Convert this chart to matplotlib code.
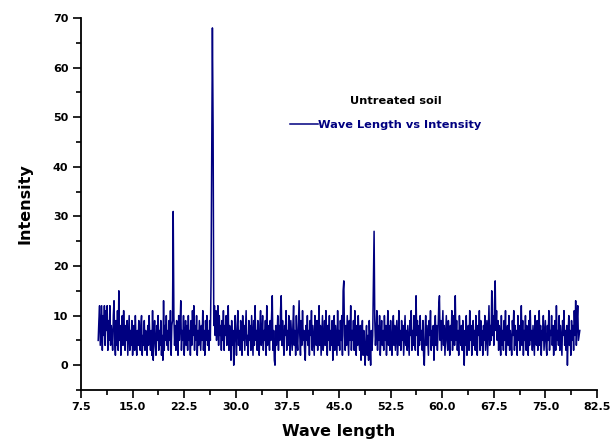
import numpy as np
import matplotlib
matplotlib.use('Agg')
import matplotlib.pyplot as plt
from matplotlib.ticker import MultipleLocator

# intensity, 0.1 step, one list per 10 units of wave length
i_10 = [5, 9, 12, 4, 8, 12, 3, 10, 6, 12,
        4, 11, 7, 12, 3, 9, 5, 12, 4, 8,
        6, 3, 10, 13, 5, 2, 9, 4, 11, 3,
        15, 5, 8, 2, 7, 10, 4, 11, 6, 3,
        8, 5, 9, 2, 6, 10, 3, 7, 4, 9,
        2, 6, 8, 3, 10, 5, 2, 7, 4, 9,
        5, 3, 8, 10, 2, 6, 4, 9, 3, 7,
        5, 2, 8, 4, 10, 6, 3, 7, 2, 11,
        1, 6, 9, 4, 2, 8, 5, 10, 3, 7,
        4, 9, 2, 6, 1, 13, 3, 8, 5, 10]
i_20 = [4, 7, 3, 9, 5, 11, 2, 8, 9, 31,
        10, 4, 8, 3, 9, 6, 2, 10, 5, 8,
        13, 3, 7, 5, 10, 2, 6, 9, 4, 8,
        3, 10, 5, 7, 2, 9, 4, 11, 6, 12,
        3, 8, 5, 10, 2, 7, 4, 9, 6, 3,
        8, 5, 11, 3, 7, 2, 9, 5, 10, 4,
        7, 3, 9, 5, 17, 41, 68, 48, 8, 12,
        6, 11, 5, 9, 12, 4, 10, 6, 8, 3,
        9, 5, 11, 3, 8, 6, 10, 4, 7, 12,
        3, 8, 5, 1, 9, 4, 7, 0, 6, 10]
i_30 = [5, 2, 8, 11, 4, 7, 3, 9, 6, 2,
        10, 5, 8, 3, 7, 11, 4, 6, 2, 9,
        5, 8, 3, 10, 6, 2, 9, 4, 12, 5,
        7, 3, 9, 5, 2, 8, 11, 4, 6, 10,
        3, 7, 5, 9, 2, 12, 4, 8, 6, 3,
        9, 5, 10, 14, 3, 7, 1, 0, 8, 4,
        6, 10, 3, 8, 5, 11, 14, 4, 9, 5,
        2, 8, 6, 11, 3, 7, 4, 10, 5, 2,
        9, 6, 3, 8, 12, 4, 7, 2, 10, 5,
        3, 8, 13, 6, 2, 9, 4, 11, 5, 7]
i_40 = [3, 1, 8, 5, 10, 4, 7, 2, 9, 6,
        11, 3, 8, 5, 2, 10, 6, 4, 9, 3,
        7, 12, 4, 8, 2, 6, 10, 3, 5, 9,
        4, 11, 6, 2, 8, 5, 10, 3, 7, 4,
        9, 1, 6, 10, 3, 8, 5, 2, 11, 4,
        7, 3, 9, 5, 10, 2, 15, 17, 6, 3,
        8, 4, 10, 6, 2, 9, 5, 12, 3, 7,
        5, 9, 3, 11, 6, 2, 8, 4, 10, 5,
        3, 8, 1, 6, 9, 2, 7, 4, 0, 5,
        8, 2, 6, 1, 9, 4, 0, 7, 3, 6]
i_50 = [17, 27, 9, 4, 7, 11, 3, 8, 5, 10,
        2, 6, 9, 4, 7, 3, 10, 5, 8, 2,
        6, 11, 4, 8, 3, 9, 5, 2, 7, 10,
        4, 8, 3, 6, 9, 2, 5, 11, 4, 7,
        3, 9, 5, 8, 2, 6, 10, 4, 7, 3,
        8, 5, 2, 9, 6, 11, 3, 7, 4, 10,
        5, 3, 14, 6, 9, 2, 8, 4, 10, 5,
        7, 3, 9, 2, 0, 6, 10, 4, 8, 5,
        2, 9, 6, 11, 3, 7, 4, 8, 1, 6,
        10, 4, 8, 3, 7, 12, 14, 5, 9, 3]
i_60 = [7, 11, 4, 8, 2, 6, 10, 5, 3, 9,
        6, 2, 8, 5, 11, 3, 7, 10, 4, 14,
        5, 9, 3, 7, 2, 10, 6, 4, 8, 3,
        9, 5, 0, 7, 4, 10, 2, 6, 8, 3,
        11, 5, 8, 2, 6, 9, 4, 7, 3, 10,
        5, 2, 8, 6, 11, 3, 9, 4, 7, 2,
        8, 5, 10, 3, 6, 9, 2, 7, 12, 4,
        8, 5, 15, 6, 10, 4, 12, 17, 7, 11,
        5, 9, 3, 8, 6, 2, 10, 4, 7, 3,
        9, 5, 11, 2, 6, 8, 4, 10, 3, 7]
i_70 = [5, 2, 9, 6, 11, 3, 8, 4, 7, 2,
        10, 5, 8, 3, 6, 12, 4, 9, 2, 7,
        5, 10, 3, 8, 6, 2, 9, 4, 11, 5,
        7, 3, 8, 5, 2, 10, 6, 4, 9, 3,
        6, 11, 4, 8, 2, 7, 5, 10, 3, 6,
        9, 4, 2, 8, 5, 11, 3, 7, 6, 10,
        4, 8, 2, 6, 9, 3, 12, 5, 7, 4,
        10, 3, 8, 5, 2, 9, 6, 11, 4, 7,
        3, 8, 0, 6, 10, 4, 7, 2, 9, 5,
        8, 3, 11, 6, 13, 4, 9, 12, 5, 6,
        7]

x_start = 10.0
x_step = 0.1
x_ticks = [7.5, 15.0, 22.5, 30.0, 37.5, 45.0, 52.5, 60.0, 67.5, 75.0, 82.5]
y_ticks = [0, 10, 20, 30, 40, 50, 60, 70]

intensity = np.array(i_10 + i_20 + i_30 + i_40 + i_50 + i_60 + i_70)
wave = x_start + x_step * np.arange(len(intensity))

# the reference text is wide for its height, DejaVu bold is the closest match
plt.rcParams['font.family'] = ['DejaVu Sans']
plt.rcParams['font.weight'] = 'bold'

fig = plt.figure(figsize=(6.1, 4.43), dpi=100)
ax = fig.add_axes([81/610, 53/443, 516/610, 372/443])

ax.plot(wave, intensity, color='#000080', lw=1.1, label='Wave Length vs Intensity')

ax.set_xlim(7.5, 82.5)
ax.set_ylim(-5, 70)
ax.set_xticks(x_ticks)
ax.set_xticklabels(['%.1f' % t for t in x_ticks])
ax.set_yticks(y_ticks)
ax.xaxis.set_minor_locator(MultipleLocator(3.75))
ax.yaxis.set_minor_locator(MultipleLocator(5))
ax.tick_params(which='major', direction='out', length=6, width=1.2, labelsize=8, pad=3)
ax.tick_params(which='minor', direction='out', length=3.5, width=1.2)
for lab in ax.get_xticklabels() + ax.get_yticklabels():
    lab.set_fontweight('bold')

for s in ['top', 'right']:
    ax.spines[s].set_visible(False)
for s in ['left', 'bottom']:
    ax.spines[s].set_linewidth(1.3)

ax.set_xlabel('Wave length', fontsize=11.5, fontweight='bold', labelpad=8)
ax.set_ylabel('Intensity', fontsize=11.5, fontweight='bold', labelpad=15)

ax.text(0.610, 0.777, 'Untreated soil', transform=ax.transAxes, ha='center', va='center',
        fontsize=8.2, fontweight='bold', color='black')
ax.legend(loc='center left', bbox_to_anchor=(0.405, 0.712), frameon=False,
          handlelength=2.45, handletextpad=0, borderpad=0, borderaxespad=0,
          prop={'size': 8.2, 'weight': 'bold'}, labelcolor='#000080')

fig.savefig('out.png', dpi=100)
